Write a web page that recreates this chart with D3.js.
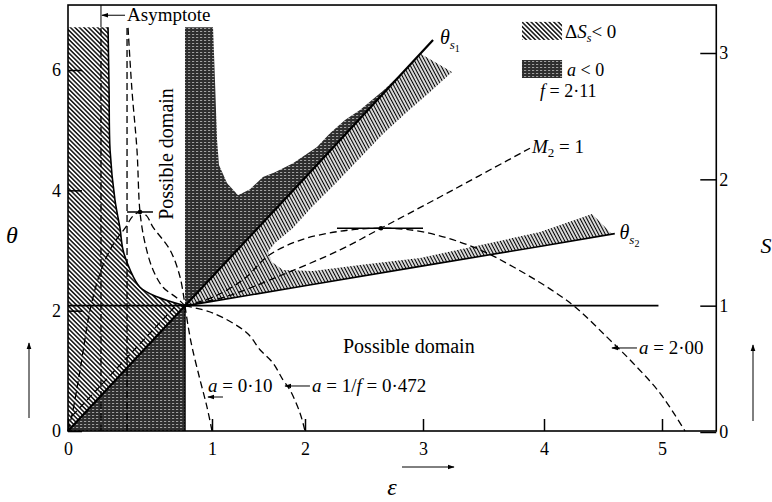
<!DOCTYPE html>
<html>
<head>
<meta charset="utf-8">
<script src="https://cdn.jsdelivr.net/npm/d3@7"></script>
<style>
  body { margin: 0; background: #fff; }
  svg text { font-family: "Liberation Serif", "DejaVu Serif", serif; fill: #000; }
</style>
</head>
<body>
<div id="chart"></div>
<script>
// values, as [epsilon, theta]
const epsTicks = [0, 1, 2, 3, 4, 5];
const thetaTicks = [0, 2, 4, 6];
const sTicks = [0, 1, 2, 3];
const epsMax = 5.46, thetaMax = 7.08, shadeTop = 6.71;

const P = [0.8125, 2.08]; // point where the curves meet

const leftBoundary = [[0.278, 6.71], [0.285, 5.7], [0.292, 4.67], [0.326, 3.84], [0.361, 3.37],
  [0.382, 3.01], [0.431, 2.68], [0.5, 2.39], [0.618, 2.23], P];
const thetaS1 = [[0, 0], P, [1, 2.56], [2, 4.21], [3.083, 6.50]];
const thetaS2 = [P, [1, 2.154], [2, 2.413], [3, 2.744], [4, 3.08], [4.60, 3.28]];

const darkEdge = [[0.8125, 6.71], [1.011, 6.71], [1.032, 5.83], [1.054, 4.84], [1.075, 4.42], [1.161, 4.12],
  [1.28, 3.92], [1.409, 4.02], [1.548, 4.22], [1.677, 4.30], [1.871, 4.45], [2.102, 4.72], [2.212, 4.95],
  [2.339, 5.17], [2.466, 5.335], [2.669, 5.667], [2.847, 6.0], [2.975, 6.266], [2, 4.21], [1, 2.56], P];
const darkTriangle = [[0, 0], P, [0.8125, 0]];

const hatchRight = [P, [1, 2.56], [2, 4.21], [2.983, 6.266], [3.24, 5.966], [3.058, 5.634], [2.864, 5.302],
  [2.661, 4.936], [2.466, 4.537], [2.263, 4.122], [2.059, 3.723], [1.871, 3.374], [1.677, 3.124],
  [1.602, 2.975], [1.645, 2.809], [1.763, 2.676], [2.068, 2.659], [2.466, 2.759], [2.975, 2.875],
  [3.554, 3.124], [3.967, 3.307], [4.407, 3.606], [4.576, 3.274], [4, 3.08], [3, 2.744], [2, 2.413], [1, 2.154]];

// dashed curves
const asymptoteEps = 0.229;
const verticalEps = 0.41;
const curveA010 = [P, [0.833, 1.76], [0.861, 1.40], [0.917, 0.85], [0.965, 0.40], [1.0, 0]];
const curveA0472 = [P, [1.011, 1.96], [1.376, 1.63], [1.516, 1.35], [1.656, 1.13], [1.763, 0.85],
  [1.839, 0.68], [1.946, 0.30], [2, 0]];
const curveA200 = [P, [1.032, 2.24], [1.355, 2.54], [1.602, 2.91], [1.946, 3.17], [2.297, 3.32], [2.644, 3.37],
  [3.0, 3.31], [3.413, 3.06], [3.744, 2.73], [4.22, 2.13], [4.534, 1.56], [4.754, 1.13], [4.983, 0.63], [5.195, 0]];
const machOne = [P, [1.161, 2.24], [1.731, 2.58], [2.297, 3.01], [2.644, 3.37], [3.14, 3.89], [3.884, 4.70]];
const curveTop = [[0.417, 6.70], [0.444, 5.67], [0.479, 4.67], [0.5, 3.64], [0.535, 3.12], [0.59, 2.68],
  [0.66, 2.39], [0.757, 2.21], P];
const arch = [[0, 0], [0.028, 0.27], [0.083, 1.0], [0.153, 2.01], [0.222, 2.62], [0.292, 3.01], [0.347, 3.22],
  [0.396, 3.37], [0.45, 3.57], [0.5, 3.64], [0.545, 3.58], [0.59, 3.39], [0.708, 3.01], [0.778, 2.56], P];
const nearDiagonal = [[0.028, 0.25], [0.74, 2.06]];
const tangentLeft = [[0.41, 3.64], [0.59, 3.64]], dotLeft = [0.5, 3.64];
const tangentRight = [[2.271, 3.37], [3.0, 3.37]], dotRight = [2.644, 3.37];

const svg = d3.select('#chart').append('svg')
    .attr('width', 772)
    .attr('height', 502);

// the printed epsilon axis is not evenly spaced
const x = d3.scaleLinear().domain(epsTicks).range([68, 212, 305, 423, 544, 662]);
const yT = d3.scaleLinear().domain([0, 6]).range([431, 70]);
const yS = d3.scaleLinear().domain([0, 3]).range([432, 53]);

const defs = svg.append('defs');
function hatch(id, angle, gap, w) {
    defs.append('pattern').attr('id', id)
        .attr('width', gap).attr('height', gap)
        .attr('patternUnits', 'userSpaceOnUse')
        .attr('patternTransform', 'rotate(' + angle + ')')
      .append('line')
        .attr('x1', gap / 2).attr('x2', gap / 2).attr('y1', 0).attr('y2', gap)
        .attr('stroke', '#000').attr('stroke-width', w);
}
hatch('hatchL', -45, 3.2, 1.4);
hatch('hatchR', -28, 3.0, 1.3);
const dk = defs.append('pattern').attr('id', 'dark')
    .attr('width', 4).attr('height', 3).attr('patternUnits', 'userSpaceOnUse');
dk.append('rect').attr('width', 4).attr('height', 3).attr('fill', '#2e2e2e');
dk.append('line').attr('x1', 0).attr('x2', 2.2).attr('y1', 1.5).attr('y2', 1.5)
    .attr('stroke', '#a0a0a0').attr('stroke-width', 1);
defs.append('marker').attr('id', 'arrow')
    .attr('viewBox', '0 0 10 10').attr('refX', 9).attr('refY', 5)
    .attr('markerWidth', 7).attr('markerHeight', 7).attr('orient', 'auto')
  .append('path').attr('d', 'M0,1.5 L10,5 L0,8.5 Z');

const lin = d3.line().x(d => x(d[0])).y(d => yT(d[1]));
const smooth = d3.line().x(d => x(d[0])).y(d => yT(d[1])).curve(d3.curveCatmullRom.alpha(0.5));

// shaded regions
svg.append('path')
    .attr('d', smooth(leftBoundary) + 'L' + x(0) + ',' + yT(0) + 'L' + x(0) + ',' + yT(shadeTop) + 'Z')
    .attr('fill', 'url(#hatchL)');
svg.append('path').attr('d', lin(hatchRight) + 'Z').attr('fill', 'url(#hatchR)');
svg.append('path').attr('d', lin(darkEdge) + 'Z').attr('fill', 'url(#dark)');
svg.append('path').attr('d', lin(darkTriangle) + 'Z').attr('fill', 'url(#dark)');

// solid lines
svg.append('path').attr('d', smooth(leftBoundary)).attr('fill', 'none').attr('stroke', '#000').attr('stroke-width', 1.6);
svg.append('path').attr('d', lin(thetaS1)).attr('fill', 'none').attr('stroke', '#000').attr('stroke-width', 2.2);
svg.append('path').attr('d', lin(thetaS2)).attr('fill', 'none').attr('stroke', '#000').attr('stroke-width', 1.6);
svg.append('line')
    .attr('x1', x(P[0])).attr('x2', x(P[0])).attr('y1', yT(0)).attr('y2', yT(P[1]))
    .attr('stroke', '#000').attr('stroke-width', 1.5);
svg.append('line')
    .attr('x1', x(0)).attr('x2', x(4.97)).attr('y1', yS(1)).attr('y2', yS(1))
    .attr('stroke', '#000').attr('stroke-width', 1.6);
svg.append('line')
    .attr('x1', x(asymptoteEps)).attr('x2', x(asymptoteEps)).attr('y1', yT(shadeTop)).attr('y2', yT(thetaMax))
    .attr('stroke', '#000').attr('stroke-width', 1);

// dashed curves
const dashed = [curveA010, curveA0472, curveA200, machOne, curveTop, arch, nearDiagonal,
  [[asymptoteEps, 0], [asymptoteEps, shadeTop]], [[verticalEps, 0], [verticalEps, 6.70]]];
svg.append('g').selectAll('path')
    .data(dashed)
    .enter().append('path')
    .attr('d', d => smooth(d))
    .attr('fill', 'none')
    .attr('stroke', '#000')
    .attr('stroke-width', 1.3)
    .attr('stroke-dasharray', '7,4');

// horizontal tangents at the maxima
[tangentLeft, tangentRight].forEach(t => {
    svg.append('path').attr('d', lin(t)).attr('stroke', '#000').attr('stroke-width', 1.5);
});
svg.selectAll('circle.dot')
    .data([dotLeft, dotRight])
    .enter().append('circle')
    .attr('cx', d => x(d[0])).attr('cy', d => yT(d[1])).attr('r', 2.3).attr('fill', '#000');

// frame and axes
svg.append('rect')
    .attr('x', x(0)).attr('y', yT(thetaMax))
    .attr('width', x(epsMax) - x(0)).attr('height', yT(0) - yT(thetaMax))
    .attr('fill', 'none').attr('stroke', '#000').attr('stroke-width', 1.6);

function styleAxis(g) {
    g.select('.domain').remove();
    g.attr('font-size', 18);
    g.selectAll('line').attr('stroke-width', 1.5);
}
const fmt = d3.format('d');
svg.append('g')
    .attr('transform', 'translate(' + x(0) + ',0)')
    .call(d3.axisLeft(yT).tickValues(thetaTicks).tickFormat(fmt).tickSize(-14).tickPadding(7))
    .call(styleAxis);
svg.append('g')
    .attr('transform', 'translate(0,' + yT(0) + ')')
    .call(d3.axisBottom(x).tickValues(epsTicks).tickFormat(fmt).tickSize(-12).tickPadding(11))
    .call(styleAxis);
svg.append('g')
    .attr('transform', 'translate(' + x(epsMax) + ',0)')
    .call(d3.axisRight(yS).tickValues(sTicks).tickFormat(fmt).tickSize(-16).tickPadding(3))
    .call(styleAxis);

// annotations
function arrow(x1, y1, x2, y2) {
    svg.append('line').attr('x1', x1).attr('y1', y1).attr('x2', x2).attr('y2', y2)
        .attr('stroke', '#000').attr('stroke-width', 1).attr('marker-end', 'url(#arrow)');
}
function label(e, th, size, parts) {
    const t = svg.append('text').attr('x', x(e)).attr('y', yT(th)).attr('font-size', size);
    parts.forEach(p => {
        const s = t.append('tspan').text(p.t);
        if (p.i) s.attr('font-style', 'italic');
        if (p.dy) s.attr('dy', p.dy);
        if (p.s) s.attr('font-size', p.s);
    });
    return t;
}

label(0.41, 6.81, 19, [{t: 'Asymptote'}]);
arrow(x(0.396), yT(6.91), x(asymptoteEps) + 1, yT(6.91));

svg.append('text')
    .attr('transform', 'translate(' + x(0.729) + ',' + yT(3.51) + ') rotate(-90)')
    .attr('font-size', 20)
    .text('Possible domain');
label(2.322, 1.30, 20, [{t: 'Possible domain'}]);

label(3.14, 6.43, 20, [{t: 'θ', i: 1}, {t: 's', i: 1, s: 13, dy: 5}, {t: '1', s: 10, dy: 3}]);
label(4.64, 3.19, 20, [{t: 'θ', i: 1}, {t: 's', i: 1, s: 13, dy: 5}, {t: '2', s: 10, dy: 3}]);
label(3.90, 4.62, 19, [{t: 'M', i: 1}, {t: '2', s: 13, dy: 4}, {t: ' = 1', dy: -4}]);

// legend
svg.append('rect')
    .attr('x', x(3.818)).attr('y', yT(6.80)).attr('width', x(4.153) - x(3.818)).attr('height', yT(6.50) - yT(6.80))
    .attr('fill', 'url(#hatchL)');
label(4.178, 6.53, 19, [{t: 'Δ'}, {t: 'S', i: 1}, {t: 's', i: 1, s: 12, dy: 4}, {t: '< 0', dy: -4}]);
svg.append('rect')
    .attr('x', x(3.818)).attr('y', yT(6.166)).attr('width', x(4.153) - x(3.818)).attr('height', yT(5.867) - yT(6.166))
    .attr('fill', 'url(#dark)');
label(4.195, 5.90, 18, [{t: 'a', i: 1}, {t: ' < 0'}]);
label(3.967, 5.55, 18, [{t: 'f', i: 1}, {t: ' = 2·11'}]);

label(0.972, 0.648, 19, [{t: 'a', i: 1}, {t: ' = 0·10'}]);
arrow(x(1.118), yT(0.565), x(0.972), yT(0.565));
arrow(x(2.042), yT(0.748), x(1.785), yT(0.748));
label(2.059, 0.648, 19, [{t: 'a', i: 1}, {t: ' = 1/'}, {t: 'f', i: 1}, {t: ' = 0·472'}]);
arrow(x(4.788), yT(1.38), x(4.576), yT(1.38));
label(4.805, 1.28, 19, [{t: 'a', i: 1}, {t: ' = 2·00'}]);

// axis titles and arrows
svg.append('text').attr('x', 12).attr('y', 243).attr('text-anchor', 'middle')
    .attr('font-size', 24).attr('font-style', 'italic').text('θ');
svg.append('text').attr('x', 766).attr('y', 253).attr('text-anchor', 'middle')
    .attr('font-size', 22).attr('font-style', 'italic').text('S');
svg.append('text').attr('x', 392).attr('y', 495).attr('text-anchor', 'middle')
    .attr('font-size', 24).attr('font-style', 'italic').text('ε');
arrow(29, 418, 29, 343);
arrow(753, 421, 753, 345);
arrow(402, 467, 454, 467);
</script>
</body>
</html>
